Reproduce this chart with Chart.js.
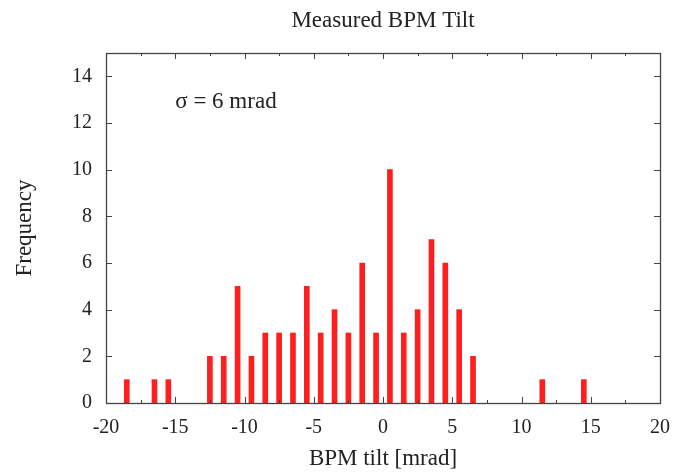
<!DOCTYPE html>
<html>
<head>
<meta charset="utf-8">
<script src="https://cdn.jsdelivr.net/npm/chart.js@4"></script>
<style>
  body { margin: 0; background: #fff; }
</style>
</head>
<body>
<canvas id="histo" width="676" height="473"></canvas>
<script>
// bin centres [mrad] and counts per bin
const tilts = [-18.5, -16.5, -15.5, -12.5, -11.5, -10.5, -9.5, -8.5, -7.5, -6.5, -5.5, -4.5, -3.5,
  -2.5, -1.5, -0.5, 0.5, 1.5, 2.5, 3.5, 4.5, 5.5, 6.5, 11.5, 14.5];
const counts = [1, 1, 1, 2, 2, 5, 2, 3, 3, 3, 5, 3, 4,
  3, 6, 3, 10, 3, 4, 7, 6, 4, 2, 1, 1];

const titulo = "Measured BPM Tilt";
const etiquetaX = "BPM tilt [mrad]";
const etiquetaY = "Frequency";
const nota = "σ = 6 mrad";

const fuente = "'Liberation Serif', 'Times New Roman', serif";
const gris = "#444";

// ticks hacia dentro, marco y textos sueltos
const marcoPlugin = {
  id: "marco",
  afterDraw(chart) {
    const { ctx, chartArea: a, scales: { x, y } } = chart;
    ctx.save();
    ctx.strokeStyle = gris;
    ctx.lineWidth = 1;
    ctx.beginPath();
    for (let v = -20; v <= 20; v += 2.5) {
      const px = Math.round(x.getPixelForValue(v)) + 0.5;
      const len = (v % 5 === 0) ? 6 : 3;
      ctx.moveTo(px, a.bottom); ctx.lineTo(px, a.bottom - len);
      ctx.moveTo(px, a.top); ctx.lineTo(px, a.top + len);
    }
    for (let v = 0; v <= 14; v += 2) {
      const py = Math.round(y.getPixelForValue(v)) + 0.5;
      ctx.moveTo(a.left, py); ctx.lineTo(a.left + 6, py);
      ctx.moveTo(a.right, py); ctx.lineTo(a.right - 6, py);
    }
    ctx.stroke();
    ctx.lineWidth = 1.3;
    ctx.strokeRect(a.left + 0.5, a.top + 0.5, a.right - a.left, a.bottom - a.top);

    ctx.fillStyle = "#222";
    ctx.font = "23px " + fuente;
    ctx.textAlign = "center";
    ctx.textBaseline = "alphabetic";
    ctx.fillText(titulo, (a.left + a.right) / 2, 27);
    ctx.textAlign = "left";
    ctx.fillText(nota, x.getPixelForValue(-15), y.getPixelForValue(12.66));
    ctx.restore();
  }
};

new Chart(document.getElementById("histo"), {
  type: "bar",
  data: {
    datasets: [{
      data: tilts.map((t, i) => ({ x: t, y: counts[i] })),
      backgroundColor: "#ff1f1f",
      barThickness: 5,
      borderWidth: 0
    }]
  },
  options: {
    responsive: false,
    animation: false,
    devicePixelRatio: 1,
    layout: { padding: { top: 53, right: 16, left: 0, bottom: 0 } },
    plugins: { legend: { display: false }, tooltip: { enabled: false } },
    scales: {
      x: {
        type: "linear",
        offset: false,
        min: -20,
        max: 20,
        grid: { display: false, drawTicks: false },
        border: { display: false },
        ticks: { stepSize: 5, padding: 13, color: "#222", font: { family: fuente, size: 20 } },
        title: { display: true, text: etiquetaX, color: "#222", font: { family: fuente, size: 23 }, padding: { top: 0, bottom: 0 } },
        afterFit(s) { s.height = 70; s.paddingLeft = 0; s.paddingRight = 0; }
      },
      y: {
        min: 0,
        max: 15,
        grid: { display: false, drawTicks: false },
        border: { display: false },
        ticks: { stepSize: 2, padding: 14, color: "#222", font: { family: fuente, size: 20 } },
        afterBuildTicks(s) { s.ticks = s.ticks.filter(t => t.value % 2 === 0); },
        title: { display: true, text: etiquetaY, color: "#222", font: { family: fuente, size: 23 }, padding: { top: 11, bottom: 0 } },
        afterFit(s) { s.width = 106; s.paddingTop = 0; s.paddingBottom = 0; }
      }
    }
  },
  plugins: [marcoPlugin]
});
</script>
</body>
</html>
